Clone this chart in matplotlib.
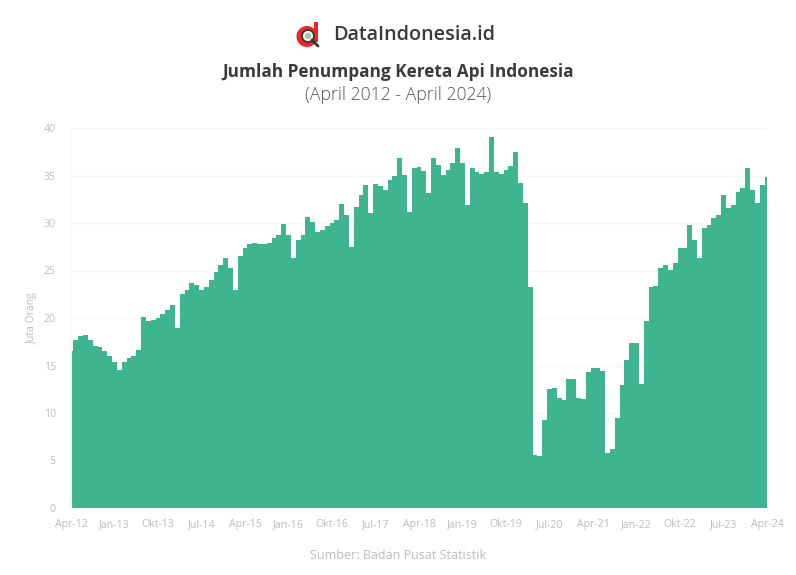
import numpy as np
import matplotlib

matplotlib.use("Agg")
import matplotlib.pyplot as plt
from matplotlib.patches import Circle, Rectangle

# monthly passengers (million), Apr 2012 - Apr 2024
passengers = [
    16.5, 17.7, 18.1, 18.2, 17.7, 17.1, 16.9, 16.5, 16.0, 15.4, 14.5, 15.4,
    15.8, 16.0, 16.6, 20.1, 19.7, 19.8, 20.0, 20.4, 20.8, 21.4, 18.9, 22.5,
    22.9, 23.7, 23.5, 22.9, 23.3, 24.0, 24.8, 25.6, 26.3, 25.3, 22.9, 26.5,
    27.4, 27.8, 27.9, 27.8, 27.8, 27.9, 28.4, 28.7, 29.9, 28.7, 26.3, 28.2,
    28.7, 30.6, 30.1, 29.1, 29.3, 29.7, 30.0, 30.3, 32.0, 30.8, 27.5, 31.7,
    32.9, 34.0, 31.1, 34.1, 33.9, 33.5, 34.5, 34.9, 36.8, 35.1, 31.2, 35.8,
    35.9, 35.5, 33.2, 36.8, 36.1, 35.1, 35.6, 36.3, 37.9, 36.3, 31.9, 35.8,
    35.4, 35.2, 35.4, 39.1, 35.4, 35.2, 35.6, 36.0, 37.5, 34.2, 32.1, 23.3,
    5.6, 5.5, 9.3, 12.5, 12.6, 11.6, 11.4, 13.6, 13.6, 11.6, 11.5, 14.3,
    14.7, 14.7, 14.4, 5.8, 6.2, 9.5, 12.9, 15.6, 17.4, 17.4, 13.1, 19.7,
    23.3, 23.4, 25.3, 25.6, 25.1, 25.8, 27.4, 27.4, 29.8, 28.2, 26.3, 29.5,
    29.8, 30.5, 30.8, 32.9, 31.6, 31.9, 33.3, 33.7, 35.8, 33.5, 32.1, 34.0,
    34.8,
]
x_labels = ["Apr-12", "Jan-13", "Okt-13", "Jul-14", "Apr-15", "Jan-16", "Okt-16", "Jul-17", "Apr-18",
            "Jan-19", "Okt-19", "Jul-20", "Apr-21", "Jan-22", "Okt-22", "Jul-23", "Apr-24"]
y_ticks = [0, 5, 10, 15, 20, 25, 30, 35, 40]

W, H = 796, 575
GREEN = "#3EB58F"
FAINT = "#bcbcbc"

plt.rcParams["font.family"] = ["Open Sans", "DejaVu Sans"]
fig = plt.figure(figsize=(W / 100, H / 100), dpi=100)
ax = fig.add_axes([71 / W, 1 - 508 / H, 696 / W, 380 / H])

months = np.arange(len(passengers))
ax.fill_between(months, passengers, 0, step="mid", color=GREEN, linewidth=0, zorder=2)

ax.set_xlim(0, len(passengers) - 1)
ax.set_ylim(0, 40)
ax.set_yticks(y_ticks)
ax.set_xticks(months[::9])
ax.set_xticklabels(x_labels)
ax.grid(axis="y", color="#f6f6f6", linewidth=1, zorder=0)
ax.tick_params(length=0, labelsize=7.6, labelcolor=FAINT)
ax.tick_params(axis="x", pad=8)
ax.tick_params(axis="y", pad=11)
for side in ["top", "right", "bottom"]:
    ax.spines[side].set_visible(False)
ax.spines["left"].set_color("#f6f6f6")
ax.set_ylabel("Juta Orang", fontsize=7.5, color=FAINT, labelpad=4)

# header: pixel overlay for logo and text
ov = fig.add_axes([0, 0, 1, 1], zorder=5)
ov.set_xlim(0, W)
ov.set_ylim(H, 0)
ov.axis("off")

ov.add_patch(Circle((307, 36.5), 10.5, color="#E8282B", linewidth=0))
ov.add_patch(Rectangle((313.5, 22), 4.5, 20, color="#E8282B", linewidth=0))
ov.add_patch(Circle((308, 36), 6, facecolor="#f2f2f2", edgecolor="#333333", linewidth=1.2))
ov.plot([312, 318], [40, 46], color="#333333", linewidth=2, solid_capstyle="round")
ov.add_patch(Circle((308, 36), 3, color="#9fc7a8", linewidth=0))

ov.text(333, 35.5, "DataIndonesia.id", fontsize=14.2, fontweight="semibold",
        color="#3a3a3a", ha="left", va="center")
ov.text(398, 72, "Jumlah Penumpang Kereta Api Indonesia", fontsize=12.4, fontweight="bold",
        color="#3a3a3a", ha="center", va="center")
ov.text(398, 95.5, "(April 2012 - April 2024)", fontsize=12.7, fontweight="light",
        color="#555555", ha="center", va="center")
ov.text(398, 555.5, "Sumber: Badan Pusat Statistik", fontsize=9, color=FAINT, ha="center", va="center")

fig.savefig("out.png", dpi=100)
